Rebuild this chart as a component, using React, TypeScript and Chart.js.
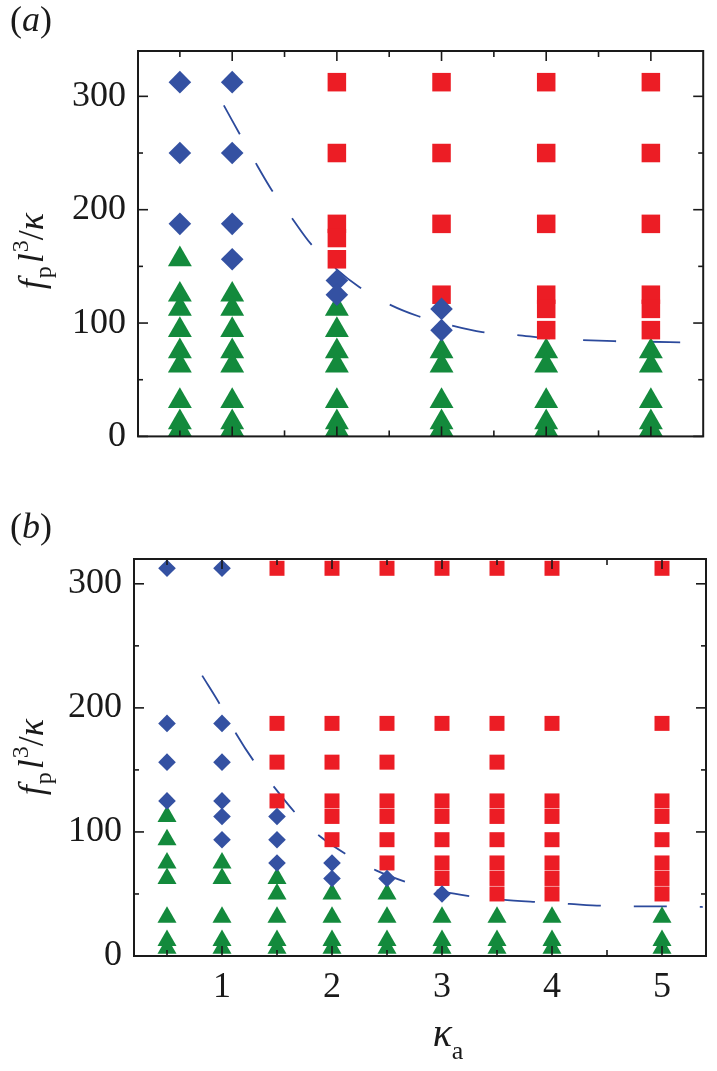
import React, { useEffect, useRef } from 'react';
import { Chart, registerables } from 'chart.js';

Chart.register(...registerables);

const FONT = "'Times New Roman', 'Liberation Serif', Times, 'DejaVu Serif', serif";
const BLUE = '#3451a2';
const RED = '#ec1d25';
const GREEN = '#138a3c';
const LINE = '#2c4a9c';
const INK = '#1a1a1a';

// ---------- Panel (a) data ----------
const A_KAPPA = [0.5, 1, 2, 3, 4, 5];
const A_DIAMOND_F = [
  [312.5, 250, 187.5],
  [312.5, 250, 187.5, 156.25],
  [137.5, 125],
  [112.5, 93.75],
  [],
  [],
];
const A_SQUARE_F = [
  [],
  [],
  [312.5, 250, 187.5, 175, 156.25],
  [312.5, 250, 187.5, 125],
  [312.5, 250, 187.5, 125, 112.5, 93.75],
  [312.5, 250, 187.5, 125, 112.5, 93.75],
];
const A_TRIANGLE_F = [
  [156.25, 125, 112.5, 93.75, 75, 62.5, 31.25, 12.5, 6.25],
  [125, 112.5, 93.75, 75, 62.5, 31.25, 12.5, 6.25],
  [112.5, 93.75, 75, 62.5, 31.25, 12.5, 6.25],
  [75, 62.5, 31.25, 12.5, 6.25],
  [75, 62.5, 31.25, 12.5, 6.25],
  [75, 62.5, 31.25, 12.5, 6.25],
];
const A_CURVE_KAPPA = [0.92, 1.07, 1.22, 1.38, 1.56, 1.75, 1.99, 2.21, 2.49, 2.78, 3.05, 3.39, 3.71, 4.03, 4.34, 4.65, 4.98, 5.28];
const A_CURVE_F = [292, 267, 242, 217, 194, 170, 148, 132, 117, 106, 99, 92, 89.5, 86.5, 85, 84, 83.5, 83];

// ---------- Panel (b) data ----------
const B_KAPPA = [0.5, 1, 1.5, 2, 2.5, 3, 3.5, 4, 5];
const B_DIAMOND_F = [
  [312.5, 187.5, 156.25, 125],
  [312.5, 187.5, 156.25, 125, 112.5, 93.75],
  [112.5, 93.75, 75],
  [75, 62.5],
  [62.5],
  [50],
  [],
  [],
  [],
];
const B_SQUARE_F = [
  [],
  [],
  [312.5, 187.5, 156.25, 125],
  [312.5, 187.5, 156.25, 125, 112.5, 93.75],
  [312.5, 187.5, 156.25, 125, 112.5, 93.75, 75],
  [312.5, 187.5, 125, 112.5, 93.75, 75, 62.5],
  [312.5, 187.5, 156.25, 125, 112.5, 93.75, 75, 62.5, 50],
  [312.5, 187.5, 125, 112.5, 93.75, 75, 62.5, 50],
  [312.5, 187.5, 125, 112.5, 93.75, 75, 62.5, 50],
];
const B_TRIANGLE_F = [
  [112.5, 93.75, 75, 62.5, 31.25, 12.5, 6.25],
  [75, 62.5, 31.25, 12.5, 6.25],
  [62.5, 50, 31.25, 12.5, 6.25],
  [50, 31.25, 12.5, 6.25],
  [50, 31.25, 12.5, 6.25],
  [31.25, 12.5, 6.25],
  [31.25, 12.5, 6.25],
  [31.25, 12.5, 6.25],
  [31.25, 12.5, 6.25],
];
const B_CURVE_KAPPA = [0.82, 0.98, 1.13, 1.29, 1.48, 1.67, 1.89, 2.13, 2.4, 2.68, 3.0, 3.27, 3.54, 3.87, 4.16, 4.46, 4.77, 5.06, 5.37];
const B_CURVE_F = [226, 203, 179, 157, 135.5, 115, 96.5, 82, 69, 59.5, 52, 48, 45.5, 43.5, 42, 40.5, 40, 40, 39.5];

// ---------- Axes ----------
const Y_TICKS = [0, 50, 100, 150, 200, 250, 300];
const Y_TICK_LABELS = ['0', '', '100', '', '200', '', '300'];
const X_TICKS = [0.5, 1, 1.5, 2, 2.5, 3, 3.5, 4, 4.5, 5];
const X_TICK_LABELS = ['', '1', '', '2', '', '3', '', '4', '', '5'];
const A_RANGE = { xMin: 0.1, xMax: 5.5, yMin: 0, yMax: 340 };
const B_RANGE = { xMin: 0.2, xMax: 5.4, yMin: 0, yMax: 320 };

type Pt = { x: number; y: number };
function columns(xs: number[], cols: number[][]): Pt[] {
  const out: Pt[] = [];
  xs.forEach((x, i) => cols[i].forEach((y) => out.push({ x, y })));
  return out;
}
function pairs(xs: number[], ys: number[]): Pt[] {
  return xs.map((x, i) => ({ x, y: ys[i] }));
}

type Part = { t: string; size: number; italic?: boolean; dy?: number; gap?: number };
function partFont(p: Part) {
  return `${p.italic ? 'italic ' : ''}${p.size}px ${FONT}`;
}
function drawParts(ctx: CanvasRenderingContext2D, parts: Part[], x: number, y: number, align: 'left' | 'center') {
  let total = 0;
  const widths = parts.map((p) => {
    ctx.font = partFont(p);
    const w = ctx.measureText(p.t).width + (p.gap || 0);
    total += w;
    return w;
  });
  let cx = align === 'center' ? x - total / 2 : x;
  ctx.textBaseline = 'alphabetic';
  ctx.textAlign = 'left';
  parts.forEach((p, i) => {
    ctx.font = partFont(p);
    ctx.fillText(p.t, cx + (p.gap || 0), y + (p.dy || 0));
    cx += widths[i];
  });
}

type Spec = {
  label: string;
  range: { xMin: number; xMax: number; yMin: number; yMax: number };
  kappa: number[];
  diamonds: number[][];
  squares: number[][];
  triangles: number[][];
  curveX: number[];
  curveY: number[];
  top: number;
  height: number;
  padTop: number;
  padRight: number;
  yWidth: number;
  xHeight: number;
  showX: boolean;
  rDiamond: number;
  rSquare: number;
  rTriangle: number;
  labelY: number;
  titleY: number;
};

const PANELS: Spec[] = [
  {
    label: 'a', range: A_RANGE, kappa: A_KAPPA, diamonds: A_DIAMOND_F, squares: A_SQUARE_F, triangles: A_TRIANGLE_F,
    curveX: A_CURVE_KAPPA, curveY: A_CURVE_F,
    top: 0, height: 470, padTop: 51, padRight: 3, yWidth: 138, xHeight: 19, showX: false,
    rDiamond: 11.3, rSquare: 13.1, rTriangle: 13.8, labelY: 31, titleY: 251,
  },
  {
    label: 'b', range: B_RANGE, kappa: B_KAPPA, diamonds: B_DIAMOND_F, squares: B_SQUARE_F, triangles: B_TRIANGLE_F,
    curveX: B_CURVE_KAPPA, curveY: B_CURVE_F,
    top: 480, height: 591, padTop: 79, padRight: 2, yWidth: 134, xHeight: 115, showX: true,
    rDiamond: 8.8, rSquare: 10.6, rTriangle: 11, labelY: 58, titleY: 277,
  },
];

function makeChart(canvas: HTMLCanvasElement, s: Spec) {
  const plugin = {
    id: 'frameAndText',
    afterDatasetsDraw(chart: any) {
      const { ctx, chartArea } = chart;
      const { left, right, top, bottom } = chartArea;
      const x = chart.scales.x;
      const y = chart.scales.y;
      ctx.save();
      ctx.strokeStyle = INK;
      ctx.lineWidth = 1.6;
      const seg = (x1: number, y1: number, x2: number, y2: number) => {
        ctx.beginPath();
        ctx.moveTo(x1, y1);
        ctx.lineTo(x2, y2);
        ctx.stroke();
      };
      X_TICKS.forEach((v) => {
        const px = x.getPixelForValue(v);
        const len = Number.isInteger(v) ? 10 : 6;
        seg(px, bottom, px, bottom - len);
        seg(px, top, px, top + len);
      });
      Y_TICKS.forEach((v) => {
        const py = y.getPixelForValue(v);
        const len = v % 100 === 0 ? 10 : 5;
        seg(left, py, left + len, py);
        seg(right, py, right - len, py);
      });
      ctx.lineWidth = 2;
      ctx.strokeRect(left, top, right - left, bottom - top);
      ctx.restore();
    },
    afterDraw(chart: any) {
      const { ctx, chartArea } = chart;
      ctx.save();
      ctx.fillStyle = INK;
      drawParts(ctx, [
        { t: '(', size: 36 },
        { t: s.label, size: 36, italic: true },
        { t: ')', size: 36 },
      ], 10, s.labelY, 'left');
      ctx.translate(43, s.titleY);
      ctx.rotate(-Math.PI / 2);
      drawParts(ctx, [
        { t: 'f', size: 36, italic: true },
        { t: 'p', size: 24, dy: 8, gap: 1 },
        { t: 'l', size: 36, italic: true, gap: 3 },
        { t: '3', size: 24, dy: -15, gap: 1 },
        { t: '/', size: 36 },
        { t: 'κ', size: 36, italic: true },
      ], 0, 0, 'center');
      ctx.restore();
      if (s.showX) {
        ctx.save();
        ctx.fillStyle = INK;
        const cx = chart.scales.x.getPixelForValue(3) + 6;
        drawParts(ctx, [
          { t: 'κ', size: 40, italic: true },
          { t: 'a', size: 26, dy: 13 },
        ], cx, chartArea.bottom + 90, 'center');
        ctx.restore();
      }
    },
  };

  return new Chart(canvas, {
    type: 'scatter',
    data: {
      datasets: [
        {
          label: 'diamond',
          data: columns(s.kappa, s.diamonds),
          pointStyle: 'rectRot',
          pointRadius: s.rDiamond,
          pointBackgroundColor: BLUE,
          pointBorderWidth: 0,
          pointBorderColor: BLUE,
        },
        {
          label: 'square',
          data: columns(s.kappa, s.squares),
          pointStyle: 'rect',
          pointRadius: s.rSquare,
          pointBackgroundColor: RED,
          pointBorderWidth: 0,
          pointBorderColor: RED,
        },
        {
          label: 'triangle',
          data: columns(s.kappa, s.triangles),
          pointStyle: 'triangle',
          pointRadius: s.rTriangle,
          pointBackgroundColor: GREEN,
          pointBorderWidth: 0,
          pointBorderColor: GREEN,
        },
        {
          label: 'boundary',
          data: pairs(s.curveX, s.curveY),
          showLine: true,
          pointRadius: 0,
          borderColor: LINE,
          borderWidth: 1.8,
          borderDash: [33, 33],
          cubicInterpolationMode: 'monotone',
          fill: false,
        } as any,
      ],
    },
    options: {
      animation: false,
      responsive: false,
      devicePixelRatio: 1,
      clip: false as any,
      layout: { padding: { top: s.padTop, right: s.padRight, left: 0, bottom: 0 } },
      plugins: { legend: { display: false }, tooltip: { enabled: false } },
      scales: {
        x: {
          type: 'linear',
          min: s.range.xMin,
          max: s.range.xMax,
          grid: { display: false, drawTicks: false },
          border: { display: false },
          afterBuildTicks: (axis: any) => {
            axis.ticks = X_TICKS.map((value) => ({ value }));
          },
          afterFit: (axis: any) => {
            axis.height = s.xHeight;
          },
          ticks: {
            display: s.showX,
            autoSkip: false,
            maxRotation: 0,
            padding: 10,
            color: INK,
            font: { family: FONT, size: 36 },
            callback: (value: any) => {
              const i = X_TICKS.indexOf(Number(value));
              return i >= 0 ? X_TICK_LABELS[i] : '';
            },
          },
        },
        y: {
          type: 'linear',
          min: s.range.yMin,
          max: s.range.yMax,
          grid: { display: false, drawTicks: false },
          border: { display: false },
          afterBuildTicks: (axis: any) => {
            axis.ticks = Y_TICKS.map((value) => ({ value }));
          },
          afterFit: (axis: any) => {
            axis.width = s.yWidth;
          },
          ticks: {
            autoSkip: false,
            padding: 12,
            color: INK,
            font: { family: FONT, size: 36 },
            callback: (value: any) => {
              const i = Y_TICKS.indexOf(Number(value));
              return i >= 0 ? Y_TICK_LABELS[i] : '';
            },
          },
        },
      },
    },
    plugins: [plugin],
  } as any);
}

function Panel({ spec }: { spec: Spec }) {
  const ref = useRef<HTMLCanvasElement>(null);
  useEffect(() => {
    if (!ref.current) return;
    const chart = makeChart(ref.current, spec);
    return () => chart.destroy();
  }, [spec]);
  return (
    <canvas
      ref={ref}
      width={717}
      height={spec.height}
      style={{ position: 'absolute', left: 0, top: spec.top, width: 717, height: spec.height }}
    />
  );
}

export default function App() {
  return (
    <div style={{ position: 'fixed', left: 0, top: 0, width: 717, height: 1071, background: '#fff', overflow: 'hidden' }}>
      {PANELS.map((p) => (
        <Panel key={p.label} spec={p} />
      ))}
    </div>
  );
}
